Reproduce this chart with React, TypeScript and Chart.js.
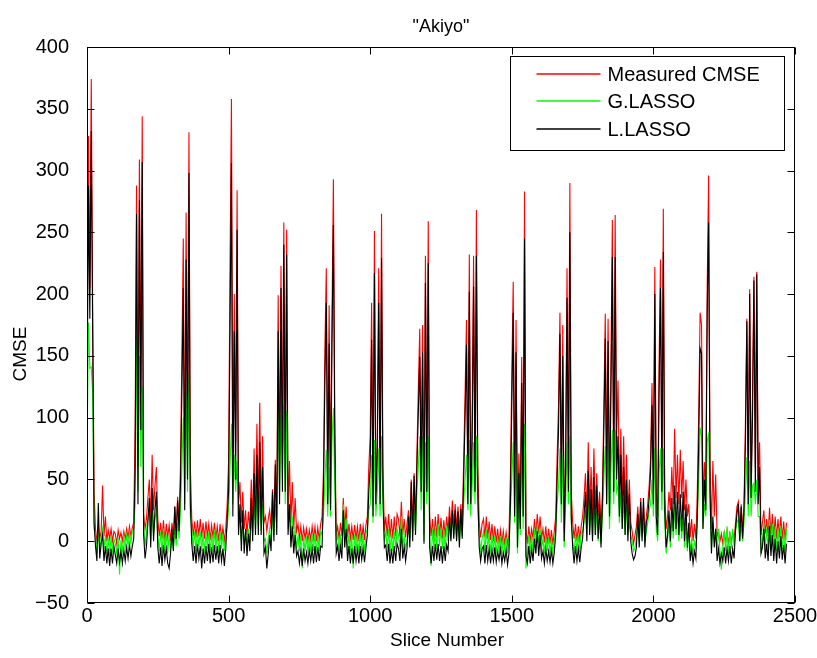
import React, { useEffect, useRef } from "react";
import { Chart, registerables } from "chart.js";

Chart.register(...registerables);

const TITLE = '"Akiyo"';
const X_TITLE = "Slice Number";
const Y_TITLE = "CMSE";
const SERIES_NAMES = ["Measured CMSE", "G.LASSO", "L.LASSO"];
const SERIES_COLORS = ["#ff0000", "#00ff00", "#000000"];
const X_TICKS = [0, 500, 1000, 1500, 2000, 2500];
const Y_TICKS = [-50, 0, 50, 100, 150, 200, 250, 300, 350, 400];
const SLICE_STEP = 5; // values read every 5 slices, starting at slice 0

const MEASURED = [
  130,328,205,374,190,40,10,0,12,2,8,45,4,20,0,9,2,10,0,8,
  6,-2,9,2,7,0,8,2,10,3,12,4,11,15,95,288,60,309,120,344,
  22,10,18,35,50,15,70,25,45,60,18,4,15,2,17,0,14,3,13,0,
  15,5,28,8,36,15,60,150,245,50,266,80,331,60,18,4,16,3,17,4,
  18,3,15,2,16,4,14,1,13,3,15,2,12,0,14,2,11,0,10,30,
  65,223,358,60,200,80,284,30,48,15,40,10,25,5,24,10,50,15,75,20,
  95,25,112,20,85,15,20,8,18,25,10,42,15,66,20,199,60,223,70,258,
  60,252,20,65,15,48,10,35,8,14,2,12,0,11,2,10,0,9,1,12,
  2,12,0,11,1,14,20,57,156,221,60,191,50,177,293,100,5,12,2,15,
  4,35,10,28,3,14,2,12,1,13,2,12,0,14,2,12,1,13,20,60,
  85,193,40,251,40,83,221,50,265,60,8,20,4,22,3,18,2,20,4,22,
  18,4,32,5,18,3,14,25,8,50,12,55,15,72,124,172,60,175,5,231,
  60,259,20,4,18,2,20,3,22,4,19,2,17,3,20,8,28,10,33,12,
  30,10,28,8,30,12,65,120,179,50,232,40,100,231,60,268,60,15,3,14,
  18,3,20,2,16,1,14,0,12,-1,10,-2,9,-2,8,-3,7,-3,6,52,
  136,210,40,179,10,71,30,149,40,283,10,-2,12,0,10,2,18,5,22,6,
  20,2,10,-1,12,-2,10,-2,9,-3,8,20,68,110,185,50,175,8,71,221,
  60,290,40,15,2,14,0,12,1,12,20,35,55,20,80,25,60,20,75,25,
  55,20,40,10,40,108,184,60,180,30,142,260,60,264,80,130,40,91,30,85,
  25,70,20,50,15,8,-2,5,12,28,5,35,8,30,5,20,30,45,67,128,
  50,222,40,20,143,228,60,269,40,10,20,40,25,60,30,91,35,70,30,74,
  35,65,25,50,20,30,3,18,0,14,2,40,105,185,175,30,64,40,206,296,
  60,10,65,20,54,4,8,0,6,-2,7,-1,8,-2,6,-1,7,2,15,28,
  32,8,30,8,30,98,180,50,204,45,120,214,60,218,50,80,5,15,25,6,
  18,4,27,5,22,3,20,2,18,3,20,2,16,1,15,
];

const G_LASSO = [
  60,177,140,141,120,10,4,-10,8,-8,3,10,-6,5,-10,3,-12,4,-8,2,
  -2,-10,3,-27,1,-8,4,-6,5,-4,7,-2,8,10,30,165,40,150,60,125,
  12,-4,8,20,28,0,25,5,18,25,5,-8,8,-10,10,-8,6,-10,5,-8,
  6,-6,10,-4,15,2,25,60,100,30,120,40,136,20,10,-6,8,-8,9,-4,
  8,-8,6,-10,7,-6,8,-9,6,-8,9,-6,7,-10,8,-6,6,-8,5,12,
  25,60,95,30,70,40,65,10,20,0,15,-2,8,-5,10,-2,20,5,30,10,
  40,10,40,8,30,0,2,-10,2,10,0,20,5,30,10,108,40,100,50,110,
  30,105,10,28,0,20,-4,12,-6,4,-8,5,-22,3,-8,4,-10,5,-9,6,
  -8,6,-9,5,-8,8,5,20,50,74,20,60,20,80,108,40,0,5,-8,6,
  -6,30,5,18,-8,6,-10,5,-22,6,-8,5,-10,7,-8,5,-9,6,10,25,
  30,70,15,82,20,40,75,20,85,25,0,8,-6,10,-8,6,-8,8,-6,10,
  5,-6,20,-4,4,-6,0,10,2,28,5,25,8,40,60,85,25,85,0,80,
  30,85,5,-20,10,-6,12,-6,14,-4,10,-6,9,-8,12,0,18,2,22,5,
  18,2,15,0,16,4,30,50,70,25,82,20,45,80,30,85,25,5,-8,2,
  8,-8,10,-6,6,-10,5,-8,4,-10,3,-9,4,-10,2,-8,3,-10,2,25,
  50,80,15,70,-10,30,5,82,10,95,-22,-8,5,-10,4,-8,10,-4,14,-2,
  10,-6,2,-10,4,-8,3,-10,2,-9,0,10,30,45,75,15,70,-5,30,80,
  30,85,15,0,-10,6,-8,5,-9,6,8,15,25,5,35,8,25,2,30,5,
  25,0,18,-2,20,50,77,30,77,10,55,90,30,90,40,45,15,40,10,35,
  5,28,5,15,5,0,-8,-5,2,15,0,20,3,15,0,8,15,25,30,50,
  20,75,10,0,55,75,25,75,15,-10,0,15,-5,22,2,28,5,25,0,20,
  2,22,-5,15,-8,5,-8,2,-10,0,-5,15,50,92,85,10,30,20,80,88,
  30,-5,15,0,8,-8,10,-8,-23,-6,8,-8,12,-10,8,-6,10,-4,8,15,
  18,0,15,0,15,40,68,20,65,20,45,47,30,50,20,20,-10,0,15,-6,
  10,-6,17,-4,14,-8,12,-8,10,-6,12,-8,8,-10,10,
];

const L_LASSO = [
  95,288,180,332,170,15,-4,-16,31,-14,-2,5,-16,-4,-18,-6,-20,-6,-18,-4,
  -11,-18,-6,-17,-8,-18,-7,-16,-5,-14,-3,-12,-4,2,60,265,30,276,90,307,
  5,-14,-4,15,35,-5,43,0,25,40,-5,-18,-5,-20,-3,-15,-6,-18,-22,-10,
  10,-8,28,2,33,8,45,120,205,25,228,50,298,30,-2,-16,-4,-18,-2,-14,
  -4,-22,-6,-18,-4,-16,-2,-18,-5,-17,-3,-15,-4,-18,-3,-16,-6,-20,-6,18,
  40,170,306,20,170,50,252,5,30,-8,25,-10,10,-12,6,-8,35,0,55,5,
  70,5,80,5,60,-10,-5,-22,-10,5,-8,40,0,62,5,170,30,205,40,240,
  40,232,5,30,-5,12,-10,5,-12,-8,-18,-8,-20,-6,-16,-9,-18,-7,-16,-6,
  -18,-4,-17,-5,-16,-4,-5,40,130,193,30,160,25,160,256,80,-10,-4,-16,-4,
  -14,25,-5,10,-16,-4,-18,-6,-18,-4,-16,-6,-18,-4,-15,-6,-17,-5,5,40,
  60,163,20,217,30,70,193,30,229,40,-5,-3,-16,-2,-18,-6,-18,-4,-16,-2,
  -6,-16,10,-14,-4,-16,-6,20,-5,48,0,53,5,60,105,149,40,153,-2,209,
  40,225,-5,-18,-4,-16,-2,-15,-2,-16,-4,-18,-4,-16,-3,-8,20,0,25,2,
  25,0,24,-5,26,2,50,100,159,30,202,30,80,206,40,231,40,-5,-16,-6,
  -4,-18,-3,-16,-6,-18,-7,-16,-5,-17,-8,-15,-6,-18,-9,-16,-7,-19,-10,30,
  110,185,20,153,-5,55,10,128,20,245,-12,-18,-4,-18,-6,-16,2,-10,8,-12,
  5,-14,-8,-18,-6,-16,-8,-17,-7,-18,-9,5,50,90,168,30,150,0,55,197,
  40,250,20,-5,-18,-4,-16,-6,-17,-5,2,20,40,0,57,5,42,0,52,5,
  45,2,30,-5,30,90,164,30,162,20,120,230,40,230,50,85,20,70,10,60,
  5,50,0,38,0,-10,-15,-12,-5,22,-5,32,0,35,-5,15,20,35,55,110,
  30,200,20,5,120,205,40,234,25,-5,5,25,0,35,8,45,10,40,5,38,
  8,40,0,30,-5,15,-16,-6,-18,-8,-14,20,80,156,152,10,50,25,187,258,
  40,-10,20,-5,10,-16,-6,-18,-10,-16,-5,-18,-6,-16,-4,-18,-6,-14,10,22,
  30,0,28,2,25,80,178,30,200,35,100,211,40,216,30,60,-10,-5,10,-14,
  -2,-16,12,-12,5,-16,2,-18,0,-14,4,-15,-3,-18,-2,
];

const FONT = "'Liberation Sans', Arial, Helvetica, sans-serif";

const toPoints = (vals: number[]) => vals.map((y, i) => ({ x: i * SLICE_STEP, y }));

const framePlugin = {
  id: "matlabFrame",
  afterDraw(chart: any) {
    const { ctx, chartArea: a, scales } = chart;
    ctx.save();
    ctx.strokeStyle = "#000";
    ctx.lineWidth = 1;
    const l = Math.round(a.left) + 0.5;
    const r = Math.round(a.right) - 0.5;
    const t = Math.round(a.top) + 0.5;
    const b = Math.round(a.bottom) - 0.5;
    ctx.strokeRect(l, t, r - l, b - t);
    const L = 7;
    ctx.beginPath();
    for (const v of X_TICKS) {
      const x = Math.round(scales.x.getPixelForValue(v)) + 0.5;
      ctx.moveTo(x, b);
      ctx.lineTo(x, b - L);
      ctx.moveTo(x, t);
      ctx.lineTo(x, t + L);
    }
    for (const v of Y_TICKS) {
      const y = Math.round(scales.y.getPixelForValue(v)) + 0.5;
      ctx.moveTo(l, y);
      ctx.lineTo(l + L, y);
      ctx.moveTo(r, y);
      ctx.lineTo(r - L, y);
    }
    ctx.stroke();

    ctx.fillStyle = "#000";
    ctx.textAlign = "center";
    ctx.textBaseline = "middle";
    ctx.font = `18px ${FONT}`;
    ctx.fillText(TITLE, (a.left + a.right) / 2, 27);
    ctx.font = `19px ${FONT}`;
    ctx.fillText(X_TITLE, (a.left + a.right) / 2 + 6, 641);
    ctx.save();
    ctx.translate(21, 354);
    ctx.rotate(-Math.PI / 2);
    ctx.fillText(Y_TITLE, 0, 0);
    ctx.restore();

    const bw = 274;
    const bh = 94;
    const bx = Math.round(a.right - 11 - bw) + 0.5;
    const by = Math.round(a.top + 9) + 0.5;
    ctx.fillStyle = "#fff";
    ctx.fillRect(bx, by, bw, bh);
    ctx.strokeStyle = "#000";
    ctx.lineWidth = 1;
    ctx.strokeRect(bx, by, bw, bh);
    ctx.font = `20px ${FONT}`;
    ctx.textAlign = "left";
    ctx.textBaseline = "middle";
    chart.data.datasets.forEach((ds: any, i: number) => {
      const yy = Math.round(by + 17 + i * 27.5);
      ctx.strokeStyle = ds.borderColor;
      ctx.lineWidth = 1.3;
      ctx.beginPath();
      ctx.moveTo(bx + 26, yy);
      ctx.lineTo(bx + 90, yy);
      ctx.stroke();
      ctx.fillStyle = "#000";
      ctx.fillText(ds.label, bx + 97, yy + 1);
    });
    ctx.restore();
  },
};

export default function App() {
  const ref = useRef<HTMLCanvasElement | null>(null);

  useEffect(() => {
    if (!ref.current) return;
    const series = [MEASURED, G_LASSO, L_LASSO];
    const chart = new Chart(ref.current, {
      type: "line",
      data: {
        datasets: series.map((vals, i) => ({
          label: SERIES_NAMES[i],
          data: toPoints(vals),
          borderColor: SERIES_COLORS[i],
          backgroundColor: SERIES_COLORS[i],
          borderWidth: 1.1,
          pointRadius: 0,
          fill: false,
          tension: 0,
          order: 3 - i,
        })),
      },
      options: {
        animation: false,
        responsive: true,
        maintainAspectRatio: false,
        events: [],
        layout: { padding: { left: 0, right: 22, top: 47, bottom: 0 } },
        plugins: {
          legend: { display: false },
          title: { display: false },
          tooltip: { enabled: false },
        },
        scales: {
          x: {
            type: "linear",
            min: 0,
            max: 2500,
            afterBuildTicks: (s: any) => {
              s.ticks = X_TICKS.map((v) => ({ value: v }));
            },
            afterFit: (s: any) => {
              s.height = 55;
            },
            grid: { display: false },
            border: { display: false },
            ticks: {
              color: "#000",
              font: { family: FONT, size: 20 },
              padding: -7,
              maxRotation: 0,
              callback: (v: any) => String(v),
            },
            title: { display: false },
          },
          y: {
            type: "linear",
            min: -50,
            max: 400,
            afterBuildTicks: (s: any) => {
              s.ticks = Y_TICKS.map((v) => ({ value: v }));
            },
            afterFit: (s: any) => {
              s.width = 87;
            },
            grid: { display: false },
            border: { display: false },
            ticks: {
              color: "#000",
              font: { family: FONT, size: 20 },
              padding: 10,
              callback: (v: any) => (Number(v) < 0 ? "\u2212" + Math.abs(Number(v)) : String(v)),
            },
            title: { display: false },
          },
        },
      },
      plugins: [framePlugin],
    });
    return () => chart.destroy();
  }, []);

  return (
    <div style={{ position: "fixed", left: 0, top: 0, width: 817, height: 658, background: "#fff" }}>
      <canvas ref={ref} />
    </div>
  );
}
